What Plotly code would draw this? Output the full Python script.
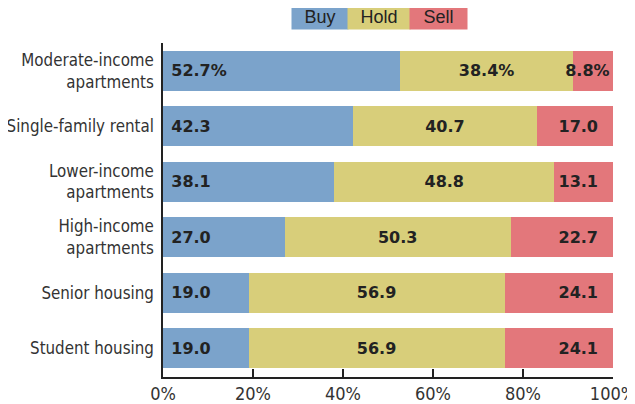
import plotly.graph_objects as go

categories = ["Moderate-income<br>apartments", "Single-family rental", "Lower-income<br>apartments",
              "High-income<br>apartments", "Senior housing", "Student housing"]
buy = [52.7, 42.3, 38.1, 27.0, 19.0, 19.0]
hold = [38.4, 40.7, 48.8, 50.3, 56.9, 56.9]
sell = [8.8, 17.0, 13.1, 22.7, 24.1, 24.1]
tick_vals = [0, 20, 40, 60, 80, 100]
tick_text = ["0%", "20%", "40%", "60%", "80%", "100%"]

NARROW = "DejaVu Sans Condensed, Roboto, sans-serif"
BOLD = "DejaVu Sans, Liberation Sans, sans-serif"
REG = "Liberation Sans, Arial, sans-serif"


def fmt(vals, pad_left="", pad_right=""):
    out = [f"{v:.1f}" for v in vals]
    out[0] += "%"
    return [pad_left + t + pad_right for t in out]


buy_text = fmt(buy, pad_left="\u2004")
hold_text = fmt(hold)
sell_text = fmt(sell, pad_right="\u2002\u2005")
sell_text[0] = f"{sell[0]:.1f}%"   # too narrow a segment, sits flush right

series = [("Buy", buy, buy_text, "#7BA3CB", "start"),
          ("Hold", hold, hold_text, "#D8CE7A", "middle"),
          ("Sell", sell, sell_text, "#E3777B", "end")]

fig = go.Figure()
for name, vals, texts, color, anchor in series:
    fig.add_trace(go.Bar(
        y=categories, x=vals, name=name, orientation="h",
        marker=dict(color=color, line_width=0),
        text=texts, textposition="inside", insidetextanchor=anchor,
        textangle=0, constraintext="none",
        textfont=dict(family=BOLD, size=16, color="#222222", weight="bold"),
        cliponaxis=False,
    ))

# page body adds an 8px offset, margins are set in figure pixels
L, R, T, B = 155, 30, 35, 35
PW, PH = 635 - L - R, 404 - T - B

fig.update_layout(
    barmode="stack", bargap=0.28, showlegend=False,
    width=635, height=404,
    paper_bgcolor="white", plot_bgcolor="white",
    margin=dict(l=L, r=R, t=T, b=B, autoexpand=False),
    font=dict(family=NARROW, color="#333333", size=16),
)
fig.update_xaxes(range=[0, 100], tickvals=tick_vals, ticktext=tick_text, automargin=False,
                 showgrid=False, zeroline=False, showline=True, linecolor="#222222", linewidth=1.5,
                 ticks="inside", ticklen=8, tickcolor="#222222", tickwidth=1.5,
                 tickfont=dict(size=18, family=NARROW, color="#333333"))
fig.update_yaxes(autorange=False, range=[5.52, -0.5], showgrid=False, zeroline=False, automargin=False,
                 showline=True, linecolor="#222222", linewidth=1.5, ticks="",
                 ticklabelstandoff=4, tickfont=dict(size=16.8, family=NARROW, color="#333333"))

# legend drawn as coloured boxes above the plot
legend_cx = [312, 371, 430.5]
legend_w = [56, 62, 57]
for (name, vals, texts, color, anchor), cx, w in zip(series, legend_cx, legend_w):
    fig.add_annotation(x=(cx - L) / PW, y=(T + PH - 9) / PH, xref="paper", yref="paper",
                       text=name, showarrow=False, bgcolor=color, width=w - 4, height=20,
                       borderpad=2, font=dict(family=REG, size=18, color="#222222"),
                       xanchor="center", yanchor="middle")

fig.write_html("out.html")
